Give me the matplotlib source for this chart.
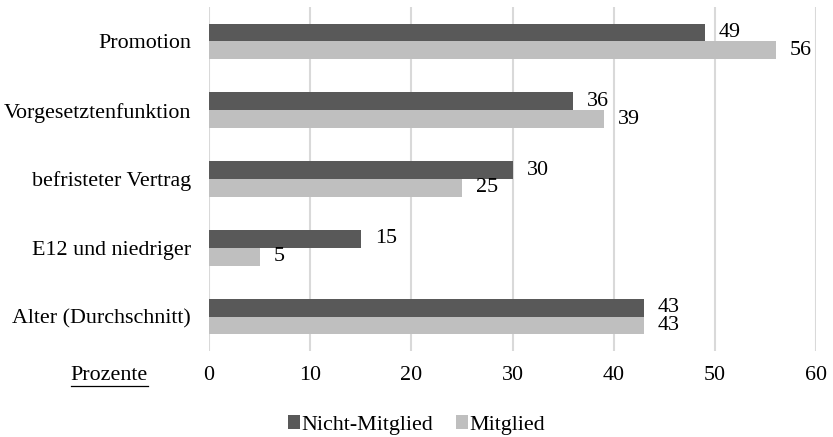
import matplotlib.pyplot as plt
import numpy as np

categories = ['Promotion', 'Vorgesetztenfunktion', 'befristeter Vertrag',
              'E12 und niedriger', 'Alter (Durchschnitt)']
nicht_mitglied = [49, 36, 30, 15, 43]
mitglied = [56, 39, 25, 5, 43]
xticks = [0, 10, 20, 30, 40, 50, 60]

plt.rcParams['font.family'] = 'Liberation Serif'
plt.rcParams['font.size'] = 15.8

fig = plt.figure(figsize=(8.33, 4.37), dpi=100)
ax = fig.add_axes([0.2509, 0.197, 0.7287, 0.787])

y = np.arange(len(categories))
h = 0.26
dark = '#595959'
light = '#bfbfbf'

ax.barh(y - h / 2, nicht_mitglied, height=h, color=dark, label='Nicht-Mitglied', zorder=3)
ax.barh(y + h / 2, mitglied, height=h, color=light, label='Mitglied', zorder=3)

for i in range(len(categories)):
    ax.annotate(str(nicht_mitglied[i]), (nicht_mitglied[i], y[i] - h / 2),
                xytext=(10, 0), textcoords='offset points', va='center', ha='left')
    ax.annotate(str(mitglied[i]), (mitglied[i], y[i] + h / 2),
                xytext=(10, 0), textcoords='offset points', va='center', ha='left')

ax.set_ylim(len(categories) - 0.5, -0.5)
ax.set_xlim(0, 60)
ax.set_xticks(xticks)
ax.set_yticks(y)
ax.set_yticklabels(categories)
ax.tick_params(length=0)
ax.tick_params(axis='x', pad=11)
ax.tick_params(axis='y', pad=13)
ax.grid(axis='x', color='#d9d9d9', linewidth=1.5, zorder=0)
for s in ax.spines.values():
    s.set_visible(False)

# "Prozente" underlined, right-aligned before the 0 tick
t = fig.text(148 / 833, 1 - 376 / 437, 'Prozente', ha='right', va='center')
fig.canvas.draw()
bb = t.get_window_extent().transformed(fig.transFigure.inverted())
fig.add_artist(plt.Line2D([bb.x0, bb.x1], [1 - 386 / 437, 1 - 386 / 437],
                          color='black', linewidth=0.9))

ax.legend(loc='center', bbox_to_anchor=(0.5, 1 - 425 / 437), bbox_transform=fig.transFigure,
          ncol=2, frameon=False, handlelength=0.55, handleheight=0.55,
          handletextpad=0.1, columnspacing=1.0)

plt.savefig('out.png', dpi=100)
